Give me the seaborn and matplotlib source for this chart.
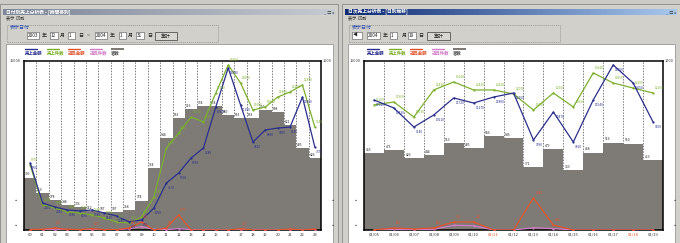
import numpy as np
import pandas as pd
import seaborn as sns
import matplotlib.pyplot as plt
from matplotlib.patches import Rectangle

# --- data: hourly chart (left window) ---
hours = ["00", "01", "02", "03", "04", "05", "06", "07", "08", "09", "10", "11",
         "12", "13", "14", "15", "16", "17", "18", "19", "20", "21", "22", "23"]
hour_sales = [5950, 2400, 2040, 1780, 1690, 1780, 1510, 1240, 710, 890, 1950, 4170,
              5060, 6390, 7280, 10920, 14380, 11100, 7810, 8880, 9050, 9140, 11800, 7370]
hour_count = [5770, 2220, 1950, 1600, 1510, 1330, 1070, 710, 620, 1150, 2930, 7280,
              8610, 10030, 9590, 12160, 14650, 13050, 10650, 10920, 11800, 12250, 12870, 9140]
hour_ret_amt = [40, 60, 170, 60, 40, 120, 40, 30, 180, 710, 0, 180,
                1330, 0, 0, 0, 0, 120, 0, 0, 0, 90, 0, 90]
hour_ret_cnt = [20, 30, 30, 20, 20, 30, 20, 20, 120, 300, 60, 30,
                120, 30, 20, 20, 20, 30, 20, 20, 20, 30, 20, 30]
hour_customers = [309, 219, 178, 148, 136, 112, 107, 107, 118, 174, 364, 544,
                  663, 716, 734, 734, 680, 663, 663, 710, 698, 621, 485, 426]

# --- data: daily chart (right window) ---
days = ["01/05", "01/06", "01/07", "01/08", "01/09", "01/10", "01/11", "01/12",
        "01/13", "01/14", "01/15", "01/16", "01/17", "01/18", "01/19"]
red_days = ["01/11", "01/18"]
day_sales = [11540, 10830, 9140, 10210, 11720, 11270, 11800, 12160,
             7990, 10470, 7810, 11540, 14650, 13050, 9590]
day_count = [11100, 11360, 10030, 12430, 13140, 12430, 12430, 12070,
             10650, 12160, 10920, 13940, 13050, 12600, 12160]
day_ret_amt = [0, 180, 90, 180, 710, 710, 0, 0, 2840, 440, 0, 0, 0, 0, 0]
day_ret_cnt = [0, 60, 40, 60, 420, 380, 0, 0, 200, 120, 0, 0, 0, 0, 0]
day_customers = [455, 473, 426, 444, 513, 485, 556, 545, 371, 479, 353, 458, 516, 510, 413]

legend_names = ["売上金額", "売上件数", "返品金額", "返品件数", "客数"]
line_colors = ["#2a2f8c", "#7cb02c", "#e2552c", "#d27cc8"]
bar_color = "#7e7b77"

W, H = 680, 243


def fx(px):
    return px / W


def fy(py):
    return 1 - py / H


def rect(fig, x, y, w, h, z=-1, **kw):
    fig.patches.append(Rectangle((fx(x), fy(y + h)), w / W, h / H, transform=fig.transFigure,
                                 zorder=z, **kw))


def box_text(fig, x, y, w, txt):
    rect(fig, x, y, w, 7, facecolor="white", edgecolor="#707070", lw=0.5)
    fig.text(fx(x + 1), fy(y + 3.5), txt, fontsize=3.4, va="center", ha="left", color="#222")


def draw_window(fig, x0, x1, title, active, fields):
    rect(fig, x0, 4, x1 - x0, 239, z=-3, facecolor="#d2d0ca", edgecolor="#8a8a8a", lw=0.6)
    # title bar
    tb = fig.add_axes([fx(x0 + 3), fy(15), (x1 - x0 - 6) / W, 6 / H])
    grad = np.linspace(0, 1, 200)[None, :]
    cmap = sns.blend_palette(["#0c2a72", "#a8c8ee"] if active else ["#7d8696", "#c6cad2"], as_cmap=True)
    tb.imshow(grad, aspect="auto", cmap=cmap)
    tb.axis("off")
    fig.text(fx(x0 + 6), fy(12), title, fontsize=3.4, color="white", va="center", weight="bold")
    fig.text(fx(x1 - 14), fy(12), "_ □ x", fontsize=3, color="#333", va="center")
    fig.text(fx(x0 + 6), fy(18), "表示  印刷", fontsize=3, color="#333", va="center")
    # group box
    rect(fig, x0 + 7, 25, fields["gw"], 17, facecolor="none", edgecolor="#999", lw=0.5, ls=(0, (2, 1)))
    fig.text(fx(x0 + 10), fy(27), "表示日付", fontsize=3.6, color="#3050b0", va="center")
    for kind, px, txt in fields["items"]:
        if kind == "box":
            box_text(fig, x0 + px[0], 32, px[1], txt)
        elif kind == "btn":
            rect(fig, x0 + px[0], 32, px[1], 8, facecolor="#d8d6d0", edgecolor="#555", lw=0.6)
            fig.text(fx(x0 + px[0] + px[1] / 2), fy(36), txt, fontsize=3.6, ha="center", va="center")
        else:
            fig.text(fx(x0 + px[0]), fy(35.5), txt, fontsize=3.6, va="center", color="#222")
    # white chart panel
    rect(fig, x0 + 6, 44, x1 - x0 - 11, 199, z=-2, facecolor="white", edgecolor="#888", lw=0.5)
    # legend
    for i, name in enumerate(legend_names):
        lx = x0 + 25 + i * 21.5
        if i < 4:
            fig.lines.append(plt.Line2D([fx(lx), fx(lx + 12)], [fy(49), fy(49)], transform=fig.transFigure,
                                        color=line_colors[i], lw=1.0))
            col = line_colors[i]
        else:
            rect(fig, lx, 48, 13, 2.5, facecolor=bar_color, edgecolor="none")
            col = "#555"
        fig.text(fx(lx), fy(53), name, fontsize=3.2, color=col, va="center", weight="bold")


def draw_chart(fig, left, right, labels, sales, count, ret_amt, ret_cnt, cust, red_labels):
    df = pd.DataFrame({"label": labels, "idx": np.arange(len(labels)), "sales": sales,
                       "count": count, "ret_amt": ret_amt, "ret_cnt": ret_cnt, "cust": cust})
    n = len(labels)
    ax = fig.add_axes([fx(left), fy(230), fx(right) - fx(left), (230 - 61) / H])
    ax.set_facecolor("white")
    sns.barplot(data=df, x="label", y="cust", color=bar_color, width=1.0, saturation=1,
                errorbar=None, linewidth=0, ax=ax, zorder=2)
    ax.set_ylim(0, 1000)
    ax.set_xlim(-0.5, n - 0.5)
    ax.set_xticks(np.arange(0.5, n - 1), minor=True)
    ax.grid(which="minor", axis="x", color="#444", lw=0.5, ls=(0, (2, 2)), zorder=0)
    ax.set_axisbelow(True)
    ax.set_yticks([])
    ax.set_xticks(range(n))
    ax.set_xticklabels(labels, fontsize=3.0)
    for t in ax.get_xticklabels():
        t.set_color("#e2552c" if t.get_text() in red_labels else "#333")
    ax.tick_params(axis="x", which="both", length=0, pad=2)
    ax.set_xlabel("")
    ax.set_ylabel("")
    for s in ax.spines.values():
        s.set_color("black")
        s.set_linewidth(1.1)
    for i, v in enumerate(cust):
        ax.text(i - 0.42, v + 8, str(v), fontsize=2.4, color="#222", va="bottom", ha="left", zorder=3)

    axl = ax.twinx()
    axl.set_ylim(0, 15000)
    axl.set_yticks([])
    for s in axl.spines.values():
        s.set_visible(False)
    for key, col in zip(["ret_cnt", "ret_amt", "count", "sales"],
                        [line_colors[3], line_colors[2], line_colors[1], line_colors[0]]):
        sns.lineplot(data=df, x="idx", y=key, color=col, lw=0.9, marker="o", markersize=1.6,
                     markeredgewidth=0, ax=axl)
    for key, col in [("sales", line_colors[0]), ("count", line_colors[1]), ("ret_amt", line_colors[2])]:
        for i, v in enumerate(df[key]):
            if key == "ret_amt" and v < 100:
                continue
            dy = 250 if key != "sales" else -650
            axl.text(i + 0.1, v + dy, str(v), fontsize=2.3, color=col, va="bottom", ha="left")
    axl.set_xlim(-0.5, n - 0.5)
    axl.set_xlabel("")
    axl.set_ylabel("")
    fig.text(fx(left - 14), fy(61), "15000", fontsize=2.8, color="#333", va="center")
    fig.text(fx(right + 2), fy(61), "1000", fontsize=2.8, color="#333", va="center")
    for py in (201, 226):
        fig.text(fx(left - 11), fy(py), "▪", fontsize=3, color="#333", va="center")
        fig.text(fx(right + 10), fy(py), "▪", fontsize=3, color="#333", va="center")


sns.set_theme(style="white")
plt.rcParams["font.family"] = ["Noto Sans CJK JP", "DejaVu Sans"]

fig = plt.figure(figsize=(6.8, 2.43), dpi=100)
fig.patch.set_facecolor("#cbcac4")

draw_window(fig, 0, 338, "日付別売上分析表 - [時間帯別]", False, {
    "gw": 211,
    "items": [("box", (27, 12), "2003"), ("t", (42,), "年"), ("box", (50, 8), "12"), ("t", (60,), "月"),
              ("box", (68, 7), "1"), ("t", (78,), "日"), ("t", (87,), "~"), ("box", (95, 12), "2004"),
              ("t", (110,), "年"), ("box", (119, 7), "1"), ("t", (128,), "月"), ("box", (136, 8), "31"),
              ("t", (147,), "日"), ("btn", (155, 22), "集計")]})
draw_window(fig, 342, 680, "日次売上分析表 - [日別推移]", True, {
    "gw": 211,
    "items": [("box", (10, 10), "◀"), ("box", (25, 13), "2004"), ("t", (41,), "年"), ("box", (48, 7), "1"),
              ("t", (60,), "月"), ("box", (66, 8), "19"), ("t", (76,), "日"), ("btn", (85, 23), "集計")]})

draw_chart(fig, 24, 321, hours, hour_sales, hour_count, hour_ret_amt, hour_ret_cnt, hour_customers, [])
draw_chart(fig, 364, 663, days, day_sales, day_count, day_ret_amt, day_ret_cnt, day_customers, red_days)

fig.savefig("out.png", dpi=100)
